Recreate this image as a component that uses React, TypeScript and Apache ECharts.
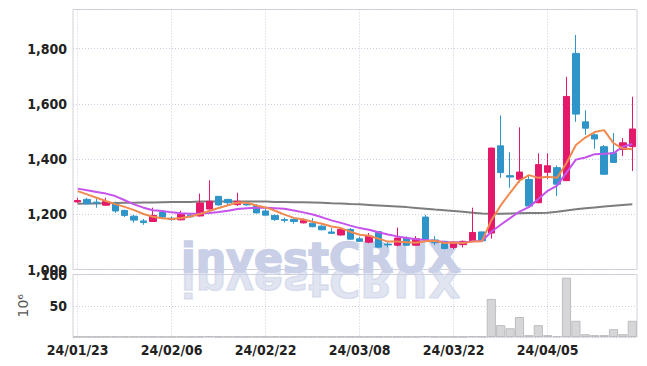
import React, { useEffect, useRef } from 'react';
import * as echarts from 'echarts';

const dates = [
  '24/01/23', '24/01/24', '24/01/25', '24/01/26', '24/01/29', '24/01/30', '24/01/31', '24/02/01', '24/02/02', '24/02/05',
  '24/02/06', '24/02/07', '24/02/08', '24/02/13', '24/02/14', '24/02/15', '24/02/16', '24/02/19', '24/02/20', '24/02/21',
  '24/02/22', '24/02/23', '24/02/26', '24/02/27', '24/02/28', '24/02/29', '24/03/04', '24/03/05', '24/03/06', '24/03/07',
  '24/03/08', '24/03/11', '24/03/12', '24/03/13', '24/03/14', '24/03/15', '24/03/18', '24/03/19', '24/03/20', '24/03/21',
  '24/03/22', '24/03/25', '24/03/26', '24/03/27', '24/03/28', '24/03/29', '24/04/01', '24/04/02', '24/04/03', '24/04/04',
  '24/04/05', '24/04/08', '24/04/09', '24/04/11', '24/04/12', '24/04/15', '24/04/16', '24/04/17', '24/04/18', '24/04/19',
];

const opens = [
  1245, 1254, 1244, 1233, 1238, 1214, 1193, 1176, 1174, 1208,
  1186, 1180, 1197, 1194, 1219, 1265, 1254, 1235, 1237, 1231,
  1212, 1196, 1181, 1182, 1169, 1168, 1157, 1136, 1125, 1145,
  1111, 1099, 1137, 1092, 1088, 1114, 1088, 1190, 1107, 1102,
  1080, 1090, 1102, 1136, 1132, 1448, 1340, 1327, 1326, 1242,
  1352, 1369, 1322, 1783, 1535, 1488, 1445, 1423, 1435, 1445,
];
const closes = [
  1250, 1238, 1241, 1246, 1212, 1196, 1179, 1170, 1196, 1190,
  1181, 1200, 1191, 1241, 1247, 1234, 1242, 1247, 1234, 1205,
  1197, 1181, 1178, 1174, 1177, 1155, 1144, 1131, 1145, 1110,
  1102, 1121, 1081, 1089, 1114, 1088, 1111, 1110, 1097, 1076,
  1096, 1102, 1134, 1104, 1440, 1351, 1335, 1353, 1230, 1380,
  1376, 1309, 1627, 1563, 1512, 1473, 1345, 1388, 1459, 1509,
];
const lows = [
  1240, 1236, 1224, 1231, 1206, 1190, 1170, 1162, 1172, 1183,
  1176, 1178, 1187, 1192, 1217, 1232, 1233, 1231, 1231, 1203,
  1195, 1176, 1170, 1166, 1167, 1153, 1142, 1129, 1123, 1108,
  1100, 1095, 1079, 1080, 1084, 1086, 1086, 1108, 1088, 1072,
  1074, 1080, 1100, 1102, 1112, 1332, 1296, 1315, 1228, 1240,
  1327, 1266, 1320, 1535, 1488, 1437, 1343, 1386, 1411, 1357,
];
const highs = [
  1260, 1260, 1257, 1260, 1246, 1217, 1198, 1183, 1224, 1212,
  1192, 1213, 1201, 1275, 1323, 1266, 1256, 1278, 1249, 1237,
  1224, 1199, 1188, 1184, 1185, 1186, 1162, 1150, 1150, 1150,
  1119, 1132, 1139, 1099, 1152, 1120, 1121, 1198, 1121, 1104,
  1102, 1105, 1224, 1138, 1441, 1558, 1425, 1515, 1340, 1421,
  1421, 1377, 1698, 1850, 1577, 1492, 1451, 1494, 1476, 1626,
];

const ma5 = [
  1284, 1272, 1260, 1248, 1237, 1227, 1215, 1201, 1191, 1186,
  1183, 1187, 1192, 1201, 1212, 1223, 1233, 1243, 1242, 1232,
  1225, 1213, 1199, 1187, 1181, 1173, 1166, 1156, 1150, 1137,
  1126, 1122, 1112, 1101, 1101, 1099, 1097, 1102, 1104, 1096,
  1098, 1096, 1101, 1102, 1178, 1232, 1278, 1322, 1342, 1332,
  1336, 1332, 1386, 1451, 1478, 1498, 1505, 1458, 1438, 1436,
];
const ma10 = [
  1293, 1287, 1281, 1275, 1266, 1251, 1236, 1224, 1215, 1212,
  1207, 1204, 1202, 1203, 1205, 1208, 1213, 1219, 1222, 1224,
  1224, 1222, 1220, 1214, 1207, 1199, 1189, 1178, 1169, 1159,
  1150, 1144, 1135, 1127, 1120, 1114, 1110, 1107, 1103, 1100,
  1099, 1097, 1102, 1103, 1137, 1162, 1186, 1210, 1226, 1255,
  1285, 1304, 1351, 1398, 1406, 1418, 1419, 1421, 1445, 1455,
];
const ma60 = [
  1238, 1239, 1239, 1240, 1241, 1242, 1242, 1243, 1243, 1244,
  1245, 1245, 1245, 1246, 1246, 1246, 1246, 1246, 1246, 1246,
  1246, 1245, 1245, 1244, 1244, 1243, 1242, 1240, 1239, 1237,
  1236, 1234, 1232, 1230, 1228, 1226, 1223, 1220, 1217, 1215,
  1212, 1209, 1206, 1203, 1202, 1202, 1203, 1204, 1205, 1205,
  1206, 1209, 1214, 1218, 1222, 1225, 1228, 1231, 1234, 1236,
];

const volumes = [
  0.5, 0.4, 0.4, 0.5, 0.6, 0.5, 0.4, 0.5, 0.6, 0.4,
  0.4, 0.5, 0.4, 0.8, 1.5, 0.7, 0.5, 0.6, 0.4, 0.5,
  0.4, 0.4, 0.3, 0.4, 0.4, 0.5, 0.4, 0.4, 0.5, 0.6,
  0.5, 0.5, 0.7, 0.5, 0.6, 0.5, 0.5, 1.5, 0.6, 0.5,
  0.5, 0.6, 1.5, 0.8, 61, 19, 14, 32, 3, 19,
  3, 1.5, 95, 26, 4.5, 3, 3, 12.5, 4.5, 26,
];

const priceMin = 1000;
const priceMax = 1942;
const priceStep = 200;
const volMax = 100;
const volStep = 50;
const volUnit = '10⁶';
const watermark = 'investCRUX';

const UP = '#e5196a';
const DOWN = '#2f95c9';
const labelFont = '"Liberation Sans Narrow", "DejaVu Sans Condensed", sans-serif';
const gridLine = { color: '#c9cde0', type: [1, 2] as number[], width: 1 };
const markFont = 'bold 40px "DejaVu Sans"';
const markColor = '#c8cfe6';

export default function App() {
  const ref = useRef<HTMLDivElement>(null);
  useEffect(() => {
    if (!ref.current) return;
    const chart = echarts.init(ref.current, null, { renderer: 'svg' });
    const candle = dates.map((_, i) => [opens[i], closes[i], lows[i], highs[i]]);
    const fmt = (v: number) => v.toLocaleString('en-US');
    chart.setOption({
      animation: false,
      graphic: [
        {
          type: 'text', x: 181, y: 258, scaleX: 1.07, z: 1,
          style: { text: watermark, font: markFont, fill: markColor, stroke: markColor, lineWidth: 1.5, verticalAlign: 'middle', align: 'left' },
        },
        {
          type: 'text', x: 181, y: 282, scaleX: 1.07, scaleY: -1, z: 1,
          style: { text: watermark, font: markFont, fill: markColor, stroke: markColor, lineWidth: 1.5, opacity: 0.55, verticalAlign: 'middle', align: 'left' },
        },
      ],
      grid: [
        { left: 73, right: 10, top: 9.5, height: 260, show: true, borderColor: '#d2d2da', borderWidth: 1, z: 0 },
        { left: 73, right: 10, top: 274.5, height: 62.5, show: true, borderColor: '#d2d2da', borderWidth: 1, z: 0 },
      ],
      xAxis: [
        {
          type: 'category', gridIndex: 0, data: dates, boundaryGap: true,
          axisLine: { show: false }, axisTick: { show: false }, axisLabel: { show: false },
          splitLine: { show: true, interval: 9, alignWithLabel: true, lineStyle: gridLine },
        },
        {
          type: 'category', gridIndex: 1, data: dates, boundaryGap: true,
          axisLine: { show: false }, axisTick: { show: false },
          axisLabel: { show: true, interval: 9, fontFamily: labelFont, fontSize: 14, fontWeight: 'bold', color: '#222', margin: 6 },
          splitLine: { show: true, interval: 9, alignWithLabel: true, lineStyle: gridLine },
        },
      ],
      yAxis: [
        {
          type: 'value', gridIndex: 0, min: priceMin, max: priceMax, interval: priceStep,
          axisLine: { show: false }, axisTick: { show: false },
          axisLabel: { showMaxLabel: false, formatter: fmt, fontFamily: labelFont, fontSize: 14, fontWeight: 'bold', color: '#222', margin: 6 },
          splitLine: { show: true, lineStyle: gridLine },
        },
        {
          type: 'value', gridIndex: 1, min: 0, max: volMax, interval: volStep,
          name: volUnit, nameLocation: 'middle', nameRotate: 90, nameGap: 31,
          nameTextStyle: { color: '#555', fontSize: 14, fontFamily: '"DejaVu Sans", sans-serif' },
          axisLine: { show: false }, axisTick: { show: false },
          axisLabel: { showMinLabel: false, fontFamily: labelFont, fontSize: 14, fontWeight: 'bold', color: '#222', margin: 6 },
          splitLine: { show: true, lineStyle: gridLine },
        },
      ],
      series: [
        {
          type: 'candlestick', xAxisIndex: 0, yAxisIndex: 0, data: candle, barWidth: 7, z: 3,
          itemStyle: { color: UP, color0: DOWN, borderColor: UP, borderColor0: DOWN, borderWidth: 1 },
        },
        { type: 'line', xAxisIndex: 0, yAxisIndex: 0, data: ma60, showSymbol: false, lineStyle: { color: '#7d7d7d', width: 2 }, z: 2 },
        { type: 'line', xAxisIndex: 0, yAxisIndex: 0, data: ma10, showSymbol: false, lineStyle: { color: '#c653ec', width: 2 }, z: 4 },
        { type: 'line', xAxisIndex: 0, yAxisIndex: 0, data: ma5, showSymbol: false, lineStyle: { color: '#f08a4f', width: 2 }, z: 5 },
        {
          type: 'bar', xAxisIndex: 1, yAxisIndex: 1, data: volumes, barCategoryGap: '2%', z: 3,
          itemStyle: { color: '#d6d6d9', borderColor: '#bdbdc0', borderWidth: 1 },
        },
      ],
    });
    return () => chart.dispose();
  }, []);
  return <div ref={ref} style={{ position: 'absolute', left: 0, top: 0, width: 647, height: 366 }} />;
}
